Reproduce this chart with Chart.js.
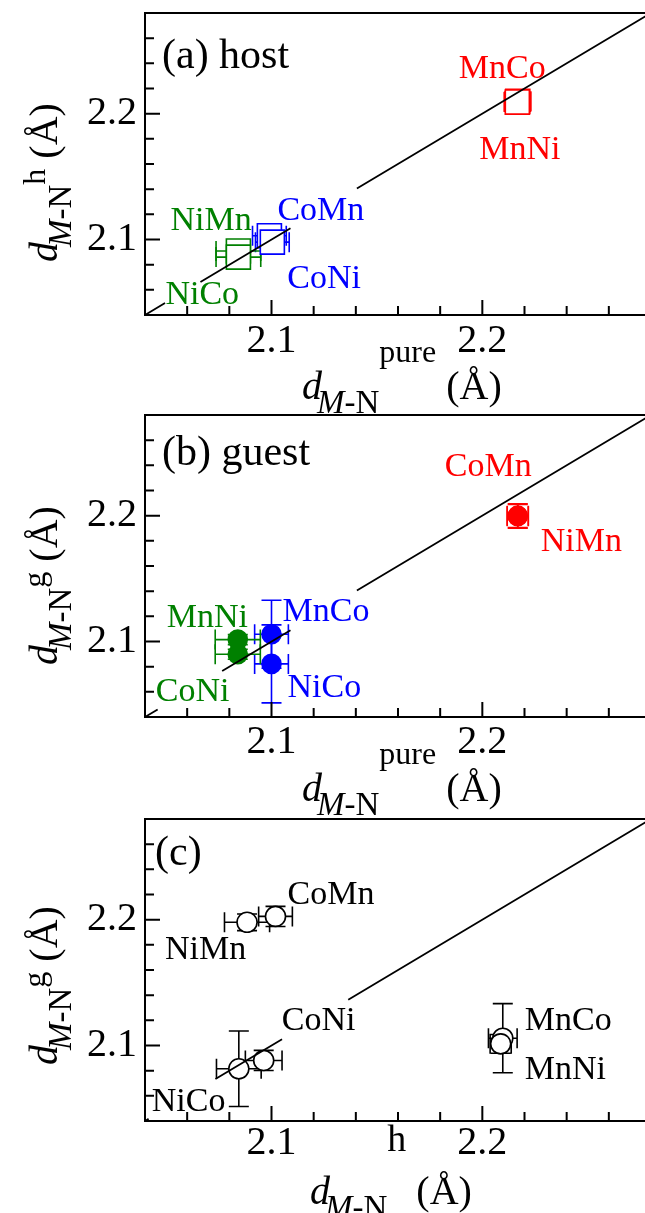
<!DOCTYPE html>
<html><head><meta charset="utf-8">
<script src="https://cdn.jsdelivr.net/npm/chart.js@4/dist/chart.umd.min.js"></script>
<style>
html,body{margin:0;padding:0;background:#fff;overflow:hidden;}
#wrap{position:relative;width:645px;height:1213px;overflow:hidden;background:#fff;}
canvas{position:absolute;left:0;}
</style></head><body>
<div id="wrap">
<canvas id="ca" style="top:0px"></canvas>
<canvas id="cb" style="top:402px"></canvas>
<canvas id="cc" style="top:806px"></canvas>
</div>
<script>
// ---------- shared axis values ----------
const axisMin = 2.04, axisMax = 2.28;
const tickValues = [2.1, 2.2];
const tickLabels = ['2.1', '2.2'];
const minorTickValues = [2.06, 2.08, 2.10, 2.12, 2.14, 2.16, 2.18, 2.20, 2.22, 2.24, 2.26];

// ---------- (a) host ----------
const hostNames   = ['MnCo', 'MnNi', 'CoMn', 'CoNi', 'NiMn', 'NiCo'];
const hostMetal   = ['Mn', 'Mn', 'Co', 'Co', 'Ni', 'Ni'];
const hostPure    = [2.2168, 2.2166, 2.0990, 2.1004, 2.0843, 2.0843];
const hostDist    = [2.2098, 2.2092, 2.1030, 2.0979, 2.0909, 2.0860];
const hostPureErr = [0.0062, 0.0062, 0.0080, 0.0080, 0.0106, 0.0106];
const hostDistErr = [0.0080, 0.0080, 0.0080, 0.0080, 0.0080, 0.0080];

// ---------- (b) guest ----------
const guestNames   = ['CoMn', 'NiMn', 'MnCo', 'NiCo', 'MnNi', 'CoNi'];
const guestMetal   = ['Mn', 'Mn', 'Co', 'Co', 'Ni', 'Ni'];
const guestPure    = [2.2168, 2.2168, 2.1000, 2.1000, 2.0840, 2.0840];
const guestDist    = [2.2000, 2.1995, 2.1058, 2.0822, 2.1015, 2.0899];
const guestPureErr = [0.0050, 0.0050, 0.0080, 0.0080, 0.0107, 0.0107];
const guestDistErr = [0.0095, 0.0095, 0.0270, 0.0310, 0.0040, 0.0040];

// ---------- (c) guest vs host ----------
const cmpNames    = ['CoMn', 'NiMn', 'CoNi', 'NiCo', 'MnCo', 'MnNi'];
const cmpHost     = [2.1019, 2.0884, 2.0963, 2.0845, 2.2097, 2.2087];
const cmpGuest    = [2.2026, 2.1979, 2.0881, 2.0815, 2.1058, 2.1013];
const cmpHostErr  = [0.0080, 0.0107, 0.0087, 0.0106, 0.0068, 0.0050];
const cmpGuestErr = [0.0080, 0.0066, 0.0080, 0.0300, 0.0275, 0.0074];

// ---------- y = x reference line, visible stretches ----------
const diagA = [[2.04, 2.0495], [2.0663, 2.109], [2.1405, 2.28]];
const diagB = [[2.04, 2.046], [2.0766, 2.109], [2.1405, 2.28]];
const diagC = [[2.04, 2.0417], [2.0734, 2.105], [2.1364, 2.28]];

// ---------- styles / layout ----------
const metalColor = { Mn: '#ff0000', Co: '#0000ff', Ni: '#008000' };
const FONT = '"Liberation Serif", "Times New Roman", serif';
const PLOT_TOP = 13, PLOT_H = 302, AXIS_W = 145, CANVAS_W = 652;

// label offsets (pixels from the point: left edge, baseline)
const offA = { MnCo: [-59, -23], MnNi: [-38, 57], CoMn: [8, -16], CoNi: [15, 46], NiMn: [-68, -21], NiCo: [-73, 47] };
const offB = { CoMn: [-73, -40], NiMn: [23, 35], MnCo: [11, -13], NiCo: [16, 33], MnNi: [-71, -13], CoNi: [-82, 47] };
const offC = { CoMn: [12, -12], NiMn: [-82, 37], CoNi: [18, -30], NiCo: [-87, 42], MnCo: [22, -8], MnNi: [24, 35] };

function diagData(segs) {
  const out = [];
  segs.forEach(s => { out.push({ x: s[0], y: s[0] }, { x: s[1], y: s[1] }, { x: s[1], y: null }); });
  return out;
}

const errorBars = {
  id: 'errorBars',
  beforeDatasetsDraw(chart) {
    const { ctx, scales: { x, y } } = chart;
    const cap = 10;
    chart.data.datasets.forEach(ds => {
      if (!ds.xErr) return;
      ctx.save();
      ctx.lineWidth = 1.6;
      ds.data.forEach((p, i) => {
        ctx.strokeStyle = ds.errColor[i];
        const px = x.getPixelForValue(p.x), py = y.getPixelForValue(p.y);
        const x0 = x.getPixelForValue(p.x - ds.xErr[i]), x1 = x.getPixelForValue(p.x + ds.xErr[i]);
        const y0 = y.getPixelForValue(p.y - ds.yErr[i]), y1 = y.getPixelForValue(p.y + ds.yErr[i]);
        ctx.beginPath();
        ctx.moveTo(x0, py); ctx.lineTo(x1, py);
        ctx.moveTo(x0, py - cap); ctx.lineTo(x0, py + cap);
        ctx.moveTo(x1, py - cap); ctx.lineTo(x1, py + cap);
        ctx.moveTo(px, y0); ctx.lineTo(px, y1);
        ctx.moveTo(px - cap, y0); ctx.lineTo(px + cap, y0);
        ctx.moveTo(px - cap, y1); ctx.lineTo(px + cap, y1);
        ctx.stroke();
      });
      ctx.restore();
    });
  }
};

function drawRich(ctx, runs, x, y, rotate) {
  ctx.save();
  ctx.translate(x, y);
  if (rotate) ctx.rotate(-Math.PI / 2);
  ctx.textAlign = 'left';
  ctx.textBaseline = 'alphabetic';
  ctx.fillStyle = '#000';
  let cx = 0;
  runs.forEach(r => {
    ctx.font = (r.italic ? 'italic ' : '') + r.size + 'px ' + FONT;
    ctx.fillText(r.t, cx, r.dy || 0);
    cx += ctx.measureText(r.t).width + (r.kern || 0);
  });
  ctx.restore();
}

const decor = {
  id: 'decor',
  afterDatasetsDraw(chart) {
    const { ctx, chartArea: a, scales: { x, y } } = chart;
    const o = chart.options.plugins.decor;
    ctx.save();
    // frame
    ctx.strokeStyle = '#000';
    ctx.lineWidth = 2;
    ctx.beginPath();
    ctx.moveTo(a.right + 2, a.top); ctx.lineTo(a.left, a.top); ctx.lineTo(a.left, a.bottom); ctx.lineTo(a.right + 2, a.bottom);
    ctx.stroke();
    // inward ticks
    ctx.beginPath();
    minorTickValues.forEach(v => {
      const major = tickValues.some(t => Math.abs(t - v) < 1e-9);
      const len = major ? 15 : 9;
      const px = x.getPixelForValue(v);
      ctx.moveTo(px, a.bottom); ctx.lineTo(px, a.bottom - len);
      const py = y.getPixelForValue(v);
      ctx.moveTo(a.left, py); ctx.lineTo(a.left + len, py);
    });
    ctx.stroke();
    // point labels
    const ds = chart.data.datasets[1];
    ctx.textAlign = 'left';
    ctx.textBaseline = 'alphabetic';
    ctx.font = '34px ' + FONT;
    ds.names.forEach((n, i) => {
      const p = ds.data[i];
      const off = o.offsets[n];
      ctx.fillStyle = ds.errColor[i];
      ctx.fillText(n, x.getPixelForValue(p.x) + off[0], y.getPixelForValue(p.y) + off[1]);
    });
    // panel label
    ctx.fillStyle = '#000';
    ctx.font = '42px ' + FONT;
    ctx.fillText(o.panel, a.left + o.panelPos[0], a.top + o.panelPos[1]);
    ctx.restore();
    // axis titles
    drawRich(ctx, o.xTitle, o.xTitlePos[0], a.bottom + o.xTitlePos[1], false);
    drawRich(ctx, o.yTitle, o.yTitlePos[0], a.top + o.yTitlePos[1], true);
  }
};

function titleRuns(sup, supSize, supDy) {
  return [
    { t: 'd', italic: true, size: 40, kern: -5 },
    { t: 'M', italic: true, size: 33, dy: 14 },
    { t: '-N', size: 33, dy: 14 },
    { t: sup, size: supSize, dy: supDy },
    { t: ' (Å)', size: 40 }
  ];
}

function makeChart(id, cfg) {
  const canvas = document.getElementById(id);
  canvas.width = CANVAS_W; canvas.height = cfg.height;
  canvas.style.width = CANVAS_W + 'px'; canvas.style.height = cfg.height + 'px';
  const colors = cfg.metals.map(m => cfg.mono ? '#000' : metalColor[m]);
  const fills = cfg.fill === 'solid' ? colors : cfg.metals.map(() => '#fff');
  return new Chart(canvas, {
    type: 'scatter',
    data: {
      datasets: [
        {
          data: diagData(cfg.diag), showLine: true, spanGaps: false, pointRadius: 0,
          borderColor: '#000', borderWidth: 1.8, fill: false
        },
        {
          data: cfg.xs.map((v, i) => ({ x: v, y: cfg.ys[i] })),
          names: cfg.names, xErr: cfg.xErr, yErr: cfg.yErr, errColor: colors,
          pointStyle: cfg.pointStyle, pointRadius: cfg.radius, pointBorderWidth: 1.6,
          pointBorderColor: colors, pointBackgroundColor: fills, showLine: false
        }
      ]
    },
    options: {
      responsive: false, animation: false, devicePixelRatio: 1, events: [],
      layout: { autoPadding: false, padding: { top: PLOT_TOP, left: 0, right: 1, bottom: 0 } },
      scales: {
        x: {
          type: 'linear', min: axisMin, max: axisMax,
          grid: { display: false, drawTicks: false }, border: { display: false },
          afterBuildTicks: s => { s.ticks = tickValues.map(v => ({ value: v })); },
          afterFit: s => { s.height = cfg.height - PLOT_TOP - PLOT_H; s.paddingLeft = 0; s.paddingRight = 0; },
          ticks: { autoSkip: false, maxRotation: 0, padding: cfg.xTickPad, color: '#000',
            font: { family: FONT, size: 40, lineHeight: 1.2 },
            callback: v => tickLabels[tickValues.findIndex(t => Math.abs(t - v) < 1e-9)] }
        },
        y: {
          type: 'linear', min: axisMin, max: axisMax,
          grid: { display: false, drawTicks: false }, border: { display: false },
          afterBuildTicks: s => { s.ticks = tickValues.map(v => ({ value: v })); },
          afterFit: s => { s.width = AXIS_W; s.paddingTop = 0; s.paddingBottom = 0; },
          ticks: { autoSkip: false, padding: 8, color: '#000',
            font: { family: FONT, size: 40, lineHeight: 1.2 },
            callback: v => tickLabels[tickValues.findIndex(t => Math.abs(t - v) < 1e-9)] }
        }
      },
      plugins: {
        legend: { display: false }, tooltip: { enabled: false },
        decor: {
          offsets: cfg.offsets, panel: cfg.panel, panelPos: cfg.panelPos,
          xTitle: cfg.xTitle, xTitlePos: cfg.xTitlePos,
          yTitle: cfg.yTitle, yTitlePos: cfg.yTitlePos
        }
      }
    },
    plugins: [errorBars, decor]
  });
}

makeChart('ca', {
  height: 420, names: hostNames, metals: hostMetal, xs: hostPure, ys: hostDist,
  xErr: hostPureErr, yErr: hostDistErr, diag: diagA, pointStyle: 'rect', radius: 17, fill: 'white',
  offsets: offA, panel: '(a) host', panelPos: [17, 55], xTickPad: 2,
  xTitle: titleRuns('pure', 32, -37), xTitlePos: [302, 84],
  yTitle: titleRuns('h', 32, -12), yTitlePos: [57, 249]
});
makeChart('cb', {
  height: 420, names: guestNames, metals: guestMetal, xs: guestPure, ys: guestDist,
  xErr: guestPureErr, yErr: guestDistErr, diag: diagB, pointStyle: 'circle', radius: 9.5, fill: 'solid',
  offsets: offB, panel: '(b) guest', panelPos: [17, 50], xTickPad: 1,
  xTitle: titleRuns('pure', 32, -37), xTitlePos: [302, 84],
  yTitle: titleRuns('g', 32, -12), yTitlePos: [57, 250]
});
makeChart('cc', {
  height: 407, names: cmpNames, metals: cmpNames.map(() => 'Mn'), mono: true, xs: cmpHost, ys: cmpGuest,
  xErr: cmpHostErr, yErr: cmpGuestErr, diag: diagC, pointStyle: 'circle', radius: 10, fill: 'white',
  offsets: offC, panel: '(c)', panelPos: [10, 46], xTickPad: -2,
  xTitle: titleRuns('h', 38, -53), xTitlePos: [310, 83],
  yTitle: titleRuns('g', 32, -12), yTitlePos: [57, 246]
});
</script>
</body></html>
